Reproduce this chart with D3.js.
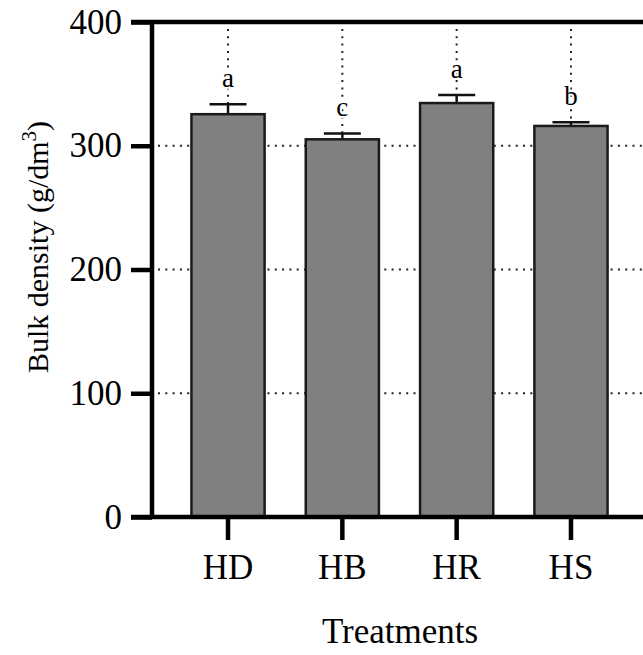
<!DOCTYPE html>
<html>
<head>
<meta charset="utf-8">
<script src="https://cdn.jsdelivr.net/npm/d3@7"></script>
</head>
<body style="margin:0">
<script>
// data
const treatments = ['HD', 'HB', 'HR', 'HS'];
const density = [325.5, 305.2, 334.5, 316.0];
const errors = [8.0, 4.8, 6.6, 3.0];
const letters = ['a', 'c', 'a', 'b'];
const yTicks = [0, 100, 200, 300, 400];

const W = 643, H = 655;
const plotLeft = 152, plotTop = 22, plotBottom = 517;
const FONT = '"Liberation Serif", serif';

const svg = d3.select('body').append('svg')
  .attr('width', W)
  .attr('height', H);

const x = d3.scaleBand().domain(treatments)
  .range([plotLeft, 647])
  .paddingInner(0.36)
  .paddingOuter(0.345);

const y = d3.scaleLinear().domain([0, 400]).range([plotBottom, plotTop]);

// horizontal dotted grid
svg.append('g').selectAll('line')
  .data(yTicks.filter(d => d > 0 && d < 400))
  .join('line')
  .attr('x1', plotLeft + 6).attr('x2', W)
  .attr('y1', d => y(d)).attr('y2', d => y(d))
  .attr('stroke', '#222').attr('stroke-width', 2)
  .attr('stroke-dasharray', '2,5.3');

// vertical dotted lines from top to error bar
svg.append('g').selectAll('line')
  .data(treatments)
  .join('line')
  .attr('x1', d => x(d) + x.bandwidth() / 2)
  .attr('x2', d => x(d) + x.bandwidth() / 2)
  .attr('y1', plotTop + 7)
  .attr('y2', (d, i) => y(density[i] + errors[i]))
  .attr('stroke', '#222').attr('stroke-width', 2)
  .attr('stroke-dasharray', '2,5.3');

// error bars
const eb = svg.append('g').attr('stroke', '#111').attr('stroke-width', 2.5);
treatments.forEach((t, i) => {
  const cx = x(t) + x.bandwidth() / 2;
  eb.append('line')
    .attr('x1', cx).attr('x2', cx)
    .attr('y1', y(density[i])).attr('y2', y(density[i] + errors[i]));
  eb.append('line')
    .attr('x1', cx - 18.5).attr('x2', cx + 18.5)
    .attr('y1', y(density[i] + errors[i])).attr('y2', y(density[i] + errors[i]));
});

// bars
svg.append('g').selectAll('rect')
  .data(treatments)
  .join('rect')
  .attr('x', d => x(d))
  .attr('width', x.bandwidth())
  .attr('y', (d, i) => y(density[i]))
  .attr('height', (d, i) => plotBottom - y(density[i]))
  .attr('fill', '#808080')
  .attr('stroke', '#1a1a1a')
  .attr('stroke-width', 2.5);

// significance letters
svg.append('g').selectAll('text')
  .data(treatments)
  .join('text')
  .attr('x', d => x(d) + x.bandwidth() / 2)
  .attr('y', (d, i) => y(density[i] + errors[i]) - 17)
  .attr('text-anchor', 'middle')
  .style('font-family', FONT)
  .style('font-size', '27px')
  .attr('fill', '#000')
  .attr('stroke', '#fff').attr('stroke-width', 4)
  .attr('paint-order', 'stroke')
  .text((d, i) => letters[i]);

// y axis
const yAxis = svg.append('g')
  .attr('transform', `translate(${plotLeft},0)`)
  .call(d3.axisLeft(y).tickValues(yTicks).tickSize(21).tickPadding(9))
  .attr('font-family', null)
  .attr('font-size', null);
yAxis.select('.domain').remove();
yAxis.selectAll('.tick line').attr('stroke', '#000').attr('stroke-width', 4.5);
yAxis.selectAll('.tick text')
  .attr('fill', '#000')
  .style('font-family', FONT)
  .style('font-size', '35px');

// axis frame lines
svg.append('line')
  .attr('x1', plotLeft).attr('x2', plotLeft)
  .attr('y1', plotTop).attr('y2', plotBottom)
  .attr('stroke', '#000').attr('stroke-width', 4.5);
svg.append('line')
  .attr('x1', plotLeft - 21).attr('x2', W)
  .attr('y1', y(400)).attr('y2', y(400))
  .attr('stroke', '#000').attr('stroke-width', 4.5);

// x axis
const xAxis = svg.append('g')
  .attr('transform', `translate(0,${plotBottom})`)
  .call(d3.axisBottom(x).tickSize(23).tickPadding(14))
  .attr('font-family', null)
  .attr('font-size', null);
xAxis.select('.domain').remove();
xAxis.selectAll('.tick line').attr('stroke', '#000').attr('stroke-width', 4.5);
xAxis.selectAll('.tick text')
  .attr('fill', '#000')
  .style('font-family', FONT)
  .style('font-size', '35px');
svg.append('line')
  .attr('x1', plotLeft - 21).attr('x2', W)
  .attr('y1', plotBottom).attr('y2', plotBottom)
  .attr('stroke', '#000').attr('stroke-width', 4.5);

// axis titles
svg.append('text')
  .attr('x', 400).attr('y', 643)
  .attr('text-anchor', 'middle')
  .style('font-family', FONT)
  .style('font-size', '35px')
  .text('Treatments');

const yl = svg.append('text')
  .attr('transform', 'translate(48,247) rotate(-90)')
  .attr('text-anchor', 'middle')
  .style('font-family', FONT)
  .style('font-size', '30px');
yl.append('tspan').text('Bulk density (g/dm');
yl.append('tspan').style('font-size', '21px').attr('dy', -12).text('3');
yl.append('tspan').attr('dy', 12).text(')');
</script>
</body>
</html>
